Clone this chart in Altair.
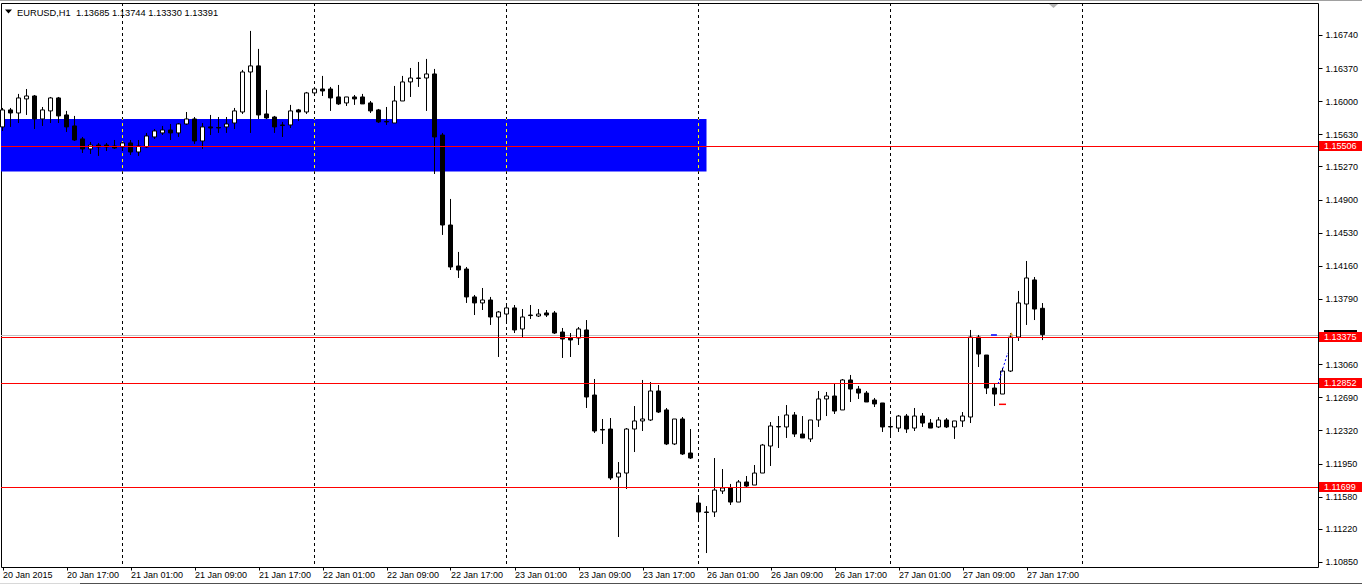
import altair as alt
import pandas as pd

symbol = "EURUSD,H1"

opens = [1.15712, 1.15902, 1.15868, 1.16025, 1.16058, 1.15801, 1.15891, 1.16036, 1.15846, 1.15723,
         1.15578, 1.15466, 1.15510, 1.15510, 1.15499, 1.15488, 1.15533, 1.15432, 1.15488, 1.15600,
         1.15645, 1.15678, 1.15645, 1.15745, 1.15801, 1.15555, 1.15712, 1.15706, 1.15712, 1.15756,
         1.15879, 1.16326, 1.16394, 1.15857, 1.15823, 1.15734, 1.15734, 1.15902, 1.15879, 1.16092,
         1.16136, 1.16136, 1.16047, 1.15980, 1.16047, 1.16047, 1.15980, 1.15902, 1.15773, 1.15756,
         1.16002, 1.16215, 1.16259, 1.16259, 1.16304, 1.15622, 1.14616, 1.14158, 1.14124, 1.13812,
         1.13745, 1.13778, 1.13588, 1.13621, 1.13689, 1.13454, 1.13610, 1.13599, 1.13633, 1.13633,
         1.13420, 1.13353, 1.13353, 1.13443, 1.12716, 1.12331, 1.12336, 1.11800, 1.11844, 1.12336,
         1.12426, 1.12437, 1.12761, 1.12549, 1.12169, 1.12448, 1.12068, 1.11509, 1.11409, 1.11409,
         1.11643, 1.11677, 1.11520, 1.11744, 1.11710, 1.11844, 1.12146, 1.12364, 1.12359, 1.12493,
         1.12280, 1.12225, 1.12437, 1.12672, 1.12705, 1.12549, 1.12884, 1.12783, 1.12738, 1.12660,
         1.12627, 1.12364, 1.12347, 1.12481, 1.12347, 1.12481, 1.12403, 1.12359, 1.12437, 1.12359,
         1.12426, 1.12470, 1.13364, 1.13163, 1.12794, 1.12727, 1.12984, 1.13364, 1.13733, 1.14002,
         1.13685]
highs = [1.15924, 1.15924, 1.16081, 1.16136, 1.16069, 1.15935, 1.16047, 1.16047, 1.15891, 1.15835,
         1.15600, 1.15544, 1.15533, 1.15533, 1.15566, 1.15544, 1.15566, 1.15566, 1.15645, 1.15689,
         1.15723, 1.15745, 1.15756, 1.15879, 1.15823, 1.15756, 1.15846, 1.15823, 1.15823, 1.15924,
         1.16349, 1.16785, 1.16584, 1.16125, 1.15835, 1.15768, 1.15958, 1.15913, 1.16103, 1.16159,
         1.16282, 1.16159, 1.16181, 1.16047, 1.16069, 1.16081, 1.16002, 1.15913, 1.15935, 1.16170,
         1.16282, 1.16371, 1.16438, 1.16472, 1.16360, 1.15645, 1.14907, 1.14315, 1.14147, 1.13834,
         1.13912, 1.13812, 1.13655, 1.13722, 1.13722, 1.13677, 1.13722, 1.13677, 1.13666, 1.13655,
         1.13465, 1.13409, 1.13476, 1.13554, 1.12895, 1.12448, 1.12459, 1.11967, 1.12347, 1.12593,
         1.12884, 1.12861, 1.12828, 1.12571, 1.12448, 1.12470, 1.12336, 1.11565, 1.11475, 1.12012,
         1.11889, 1.11722, 1.11766, 1.11811, 1.11934, 1.12169, 1.12414, 1.12481, 1.12604, 1.12526,
         1.12481, 1.12437, 1.12761, 1.12750, 1.12839, 1.12895, 1.12940, 1.12817, 1.12761, 1.12683,
         1.12627, 1.12470, 1.12493, 1.12504, 1.12571, 1.12515, 1.12448, 1.12470, 1.12459, 1.12426,
         1.12526, 1.13443, 1.13387, 1.13163, 1.12850, 1.13018, 1.13409, 1.13879, 1.14214, 1.14035,
         1.13744]
lows = [1.15667, 1.15712, 1.15756, 1.15846, 1.15689, 1.15723, 1.15756, 1.15756, 1.15656, 1.15555,
        1.15421, 1.15410, 1.15388, 1.15443, 1.15466, 1.15443, 1.15399, 1.15388, 1.15477, 1.15578,
        1.15622, 1.15566, 1.15600, 1.15734, 1.15522, 1.15466, 1.15622, 1.15645, 1.15645, 1.15689,
        1.15857, 1.15645, 1.15801, 1.15801, 1.15645, 1.15600, 1.15700, 1.15779, 1.15857, 1.16081,
        1.16058, 1.15891, 1.15958, 1.15946, 1.15958, 1.15969, 1.15868, 1.15756, 1.15734, 1.15756,
        1.16002, 1.16047, 1.16159, 1.15891, 1.15186, 1.14505, 1.14113, 1.14024, 1.13745, 1.13610,
        1.13666, 1.13499, 1.13141, 1.13510, 1.13409, 1.13364, 1.13566, 1.13588, 1.13588, 1.13398,
        1.13130, 1.13141, 1.13275, 1.12571, 1.12292, 1.12169, 1.11766, 1.11129, 1.11666, 1.12079,
        1.12314, 1.12426, 1.12515, 1.12157, 1.12157, 1.12046, 1.12001, 1.11319, 1.10950, 1.11353,
        1.11610, 1.11487, 1.11520, 1.11688, 1.11710, 1.11844, 1.11923, 1.12124, 1.12236, 1.12247,
        1.12236, 1.12191, 1.12359, 1.12481, 1.12504, 1.12549, 1.12638, 1.12672, 1.12638, 1.12582,
        1.12303, 1.12236, 1.12303, 1.12292, 1.12314, 1.12359, 1.12347, 1.12347, 1.12347, 1.12225,
        1.12359, 1.12403, 1.13029, 1.12727, 1.12593, 1.12727, 1.12973, 1.13320, 1.13499, 1.13554,
        1.13330]
closes = [1.15902, 1.15868, 1.16036, 1.16058, 1.15801, 1.15902, 1.16036, 1.15835, 1.15712, 1.15566,
          1.15466, 1.15510, 1.15488, 1.15488, 1.15477, 1.15533, 1.15432, 1.15499, 1.15611, 1.15667,
          1.15678, 1.15645, 1.15745, 1.15801, 1.15555, 1.15712, 1.15700, 1.15700, 1.15745, 1.15891,
          1.16326, 1.16394, 1.15846, 1.15812, 1.15712, 1.15728, 1.15891, 1.15879, 1.16092, 1.16136,
          1.16114, 1.16036, 1.15969, 1.16047, 1.16025, 1.15969, 1.15891, 1.15768, 1.15768, 1.16002,
          1.16215, 1.16259, 1.16254, 1.16304, 1.15600, 1.14616, 1.14147, 1.14113, 1.13812, 1.13745,
          1.13778, 1.13588, 1.13644, 1.13689, 1.13443, 1.13588, 1.13604, 1.13621, 1.13610, 1.13409,
          1.13342, 1.13331, 1.13454, 1.12694, 1.12314, 1.12325, 1.11789, 1.11844, 1.12336, 1.12426,
          1.12448, 1.12761, 1.12526, 1.12169, 1.12448, 1.12057, 1.12012, 1.11409, 1.11403, 1.11654,
          1.11677, 1.11520, 1.11744, 1.11699, 1.11844, 1.12157, 1.12370, 1.12359, 1.12493, 1.12280,
          1.12236, 1.12437, 1.12672, 1.12705, 1.12537, 1.12884, 1.12783, 1.12738, 1.12638, 1.12616,
          1.12359, 1.12359, 1.12481, 1.12336, 1.12481, 1.12403, 1.12347, 1.12437, 1.12359, 1.12426,
          1.12481, 1.13364, 1.13174, 1.12794, 1.12727, 1.12984, 1.13364, 1.13745, 1.14024, 1.13677,
          1.13391]

x_labels = ["20 Jan 2015", "20 Jan 17:00", "21 Jan 01:00", "21 Jan 09:00", "21 Jan 17:00",
            "22 Jan 01:00", "22 Jan 09:00", "22 Jan 17:00", "23 Jan 01:00", "23 Jan 09:00",
            "23 Jan 17:00", "26 Jan 01:00", "26 Jan 09:00", "26 Jan 17:00", "27 Jan 01:00",
            "27 Jan 09:00", "27 Jan 17:00"]
label_step = 8
separators = [15, 39, 63, 87, 111, 135]
# 1.13420 sits under the red 1.13375 price label in the reference (only a sliver shows)
y_ticks = [1.16740, 1.16370, 1.16000, 1.15630, 1.15270, 1.14900, 1.14530, 1.14160, 1.13790,
           1.13060, 1.12690, 1.12320, 1.11950, 1.11580, 1.11220, 1.10850]
levels = [1.15506, 1.13375, 1.12852, 1.11699]
bid = 1.13391
zone_x = [-5, 88]
zone_p = [1.15800, 1.15215]

# small trade markers
mark_lines_x = [123.56, 124.56]
mark_lines_x2 = [124.30, 125.44]
mark_lines_p = [1.13387, 1.12612]
mark_lines_col = ["#0000ff", "#ff0000"]
trend_x = [124.45, 125.65]
trend_p = [1.12840, 1.13186]
arrow_x = [126.1]
arrow_p = [1.13398]

W, H = 1317, 564
x_dom = [-0.1875, 164.4375]
y_dom = [1.10794, 1.17097]
FONT = "Liberation Sans"

df = pd.DataFrame({"i": list(range(len(opens))), "o": opens, "h": highs, "l": lows, "c": closes})
df["dir"] = ["up" if c >= o else "down" for o, c in zip(opens, closes)]

xs = alt.Scale(domain=x_dom, nice=False, zero=False, padding=0)
ys = alt.Scale(domain=y_dom, nice=False, zero=False, padding=0)

# snap horizontal 1px lines onto a pixel row so they render crisp, like the terminal does
s_px = H / (y_dom[1] - y_dom[0])
snap = "%r - (floor((%r - datum.p) * %r) + 1.5) / %r" % (y_dom[1], y_dom[1], s_px, s_px)

label_expr = "[" + ",".join("'%s'" % s for s in x_labels) + "][round(datum.value / %d)]" % label_step
XA = alt.Axis(values=[k * label_step for k in range(len(x_labels))], labelExpr=label_expr,
              orient="bottom", domain=False, ticks=True, tickSize=3, tickColor="black",
              tickWidth=1, labelAlign="left", labelBaseline="top", labelPadding=0,
              labelFont=FONT, labelFontSize=9, labelColor="black", labelOverlap=False,
              labelFlush=False, labelBound=False, grid=False, title=None)
YA = alt.Axis(values=y_ticks, format=".5f", orient="right", domain=False, tickSize=4,
              tickColor="black", tickWidth=1, labelPadding=3, labelFont=FONT, labelFontSize=9,
              labelColor="black", labelBaseline="middle", labelOverlap=False, labelFlush=False,
              grid=False, title=None)


def X(f):
    return alt.X(f, scale=xs, axis=XA, title=None)


def Y(f):
    return alt.Y(f, scale=ys, axis=YA, title=None)


zone = alt.Chart(pd.DataFrame({"x": [zone_x[0]], "x2": [zone_x[1]], "p": [zone_p[0]], "p2": [zone_p[1]]})).mark_rect(
    color="#0000ff", clip=True).encode(x=X("x:Q"), x2="x2:Q", y=Y("p:Q"), y2="p2:Q")

seps = alt.Chart(pd.DataFrame({"i": separators})).mark_rule(
    color="black", strokeDash=[3, 3], strokeWidth=1).encode(x=X("i:Q"))

inside = [s for s in separators if s <= zone_x[1]]
yellow = alt.Chart(pd.DataFrame({"i": inside, "p": [zone_p[0]] * len(inside), "p2": [zone_p[1]] * len(inside)})).mark_rule(
    color="#ffff00", strokeDash=[3, 3], strokeDashOffset=2, strokeWidth=1).encode(
    x=X("i:Q"), y=Y("p:Q"), y2="p2:Q")

bidline = alt.Chart(pd.DataFrame({"p": [bid]})).transform_calculate(ps=snap).mark_rule(
    color="#c0c0c0", strokeWidth=1).encode(y=Y("ps:Q"))

wicks = alt.Chart(df).mark_rule(color="black", strokeWidth=1).encode(x=X("i:Q"), y=Y("l:Q"), y2="h:Q")

bodies = alt.Chart(df).mark_bar(size=4, stroke="black", strokeWidth=1).encode(
    x=X("i:Q"), y=Y("o:Q"), y2="c:Q",
    fill=alt.Fill("dir:N", scale=alt.Scale(domain=["up", "down"], range=["white", "black"]), legend=None))

lv = alt.Chart(pd.DataFrame({"p": levels})).transform_calculate(ps=snap)
level_lines = lv.mark_rule(color="#ff0000", strokeWidth=1).encode(y=Y("ps:Q"))

short_lines = alt.Chart(pd.DataFrame({"x": mark_lines_x, "x2": mark_lines_x2, "p": mark_lines_p, "col": mark_lines_col})).mark_rule(
    strokeWidth=1.5).encode(x=X("x:Q"), x2="x2:Q", y=Y("p:Q"), color=alt.Color("col:N", scale=None))

trend = alt.Chart(pd.DataFrame({"x": [trend_x[0]], "x2": [trend_x[1]], "p": [trend_p[0]], "p2": [trend_p[1]]})).mark_rule(
    color="#0000ff", strokeDash=[2, 2], strokeWidth=1).encode(x=X("x:Q"), x2="x2:Q", y=Y("p:Q"), y2="p2:Q")

arrow = alt.Chart(pd.DataFrame({"x": arrow_x, "p": arrow_p})).mark_point(
    shape="triangle-up", filled=True, color="#e0a030", size=14, opacity=1).encode(x=X("x:Q"), y=Y("p:Q"))

hidden = alt.Chart(pd.DataFrame({"p": [levels[1]]})).transform_calculate(ps=snap).mark_rect(
    color="black", yOffset=-7.5, y2Offset=-5.5).encode(
    x=alt.value(W + 6), x2=alt.value(W + 39), y=Y("ps:Q"), y2="ps:Q")

lab_rect = lv.mark_rect(color="#ff0000", yOffset=-5.5, y2Offset=4.5).encode(
    x=alt.value(W + 1), x2=alt.value(W + 45), y=Y("ps:Q"), y2="ps:Q")

lab_text = lv.mark_text(align="left", baseline="middle", color="white", font=FONT, fontSize=9, dy=-0.5).encode(
    x=alt.value(W + 6), y=Y("ps:Q"), text=alt.Text("p:Q", format=".5f"))

title_str = "%s\u00a0 %.5f %.5f %.5f %.5f" % (symbol, opens[-1], highs[-1], lows[-1], closes[-1])
title = alt.Chart(pd.DataFrame({"t": [title_str]})).mark_text(
    align="left", baseline="alphabetic", color="black", font=FONT, fontSize=9.3).encode(
    x=alt.value(16), y=alt.value(12.5), text="t:N")

one = pd.DataFrame({"k": [0]})
title_tri = alt.Chart(one).mark_point(shape="M-1,-0.55L1,-0.55L0,0.55Z", filled=True, color="black",
                                      size=49, opacity=1).encode(x=alt.value(7.5), y=alt.value(8.5))
shift_tri = alt.Chart(one).mark_point(shape="M-1,-0.45L1,-0.45L0,0.45Z", filled=True, color="#b4b4b4",
                                      size=81, opacity=1).encode(x=alt.value(1052.5), y=alt.value(3))

top_line = alt.Chart(one).mark_rule(color="#a0a0a0", strokeWidth=1).encode(
    x=alt.value(-1), x2=alt.value(1361), y=alt.value(-2.5))
bot_light = alt.Chart(one).mark_rule(color="#d8d8d8", strokeWidth=1).encode(
    x=alt.value(-1), x2=alt.value(79), y=alt.value(580.5))
bot_dark = alt.Chart(one).mark_rule(color="#505050", strokeWidth=1).encode(
    x=alt.value(79), x2=alt.value(1361), y=alt.value(580.5))

chart = alt.layer(
    zone, seps, yellow, bidline, wicks, bodies, level_lines, short_lines, trend, arrow,
    hidden, lab_rect, lab_text, title, title_tri, shift_tri, top_line, bot_light, bot_dark
).properties(
    width=W, height=H,
    padding={"left": 1, "top": 3, "right": 44, "bottom": 20},
    autosize=alt.AutoSizeParams(type="none"),
    background="white",
).configure_view(stroke="black", strokeWidth=1)

chart.save("out.html", embed_options={"renderer": "svg", "actions": False})
